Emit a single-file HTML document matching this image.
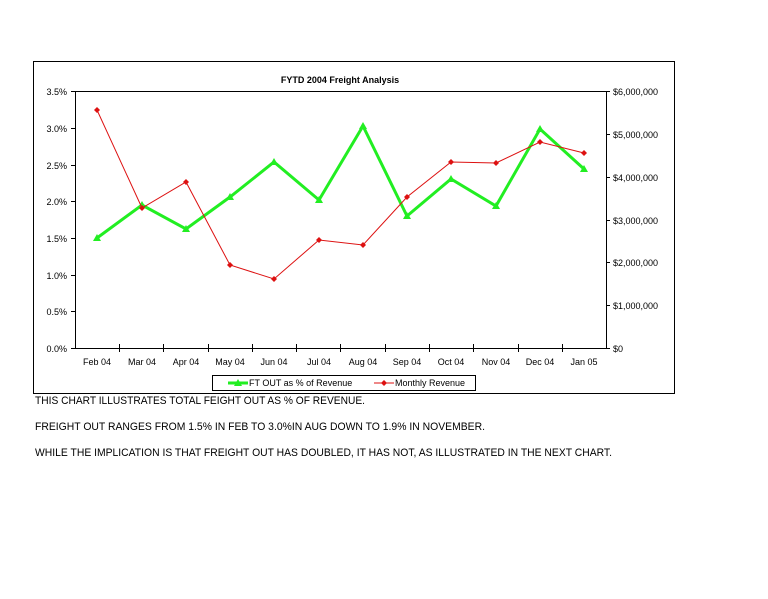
<!DOCTYPE html>
<html><head><style>
body{margin:0;background:#fff;width:768px;height:594px;overflow:hidden;font-family:"Liberation Sans",sans-serif}
</style></head><body>
<svg width="768" height="594" xmlns="http://www.w3.org/2000/svg" font-family="Liberation Sans, sans-serif">
<rect x="33.5" y="61.5" width="641" height="332" fill="#fff" stroke="#000" stroke-width="1"/>
<text x="340" y="83" font-size="9" font-weight="bold" text-anchor="middle">FYTD 2004 Freight Analysis</text>
<g stroke="#000" stroke-width="1" fill="none">
<line x1="75.5" y1="91" x2="75.5" y2="348.5"/>
<line x1="606.5" y1="91" x2="606.5" y2="348.5"/>
<line x1="75" y1="348.5" x2="607" y2="348.5"/>
<line x1="75" y1="91.5" x2="606" y2="91.5"/>
</g>
<g stroke="#000" stroke-width="1">
<line x1="71" y1="91.5" x2="75" y2="91.5"/><line x1="71" y1="128.5" x2="75" y2="128.5"/><line x1="71" y1="165.5" x2="75" y2="165.5"/><line x1="71" y1="201.5" x2="75" y2="201.5"/><line x1="71" y1="238.5" x2="75" y2="238.5"/><line x1="71" y1="275.5" x2="75" y2="275.5"/><line x1="71" y1="311.5" x2="75" y2="311.5"/><line x1="71" y1="348.5" x2="75" y2="348.5"/>
<line x1="606" y1="91.5" x2="610" y2="91.5"/><line x1="606" y1="134.5" x2="610" y2="134.5"/><line x1="606" y1="177.5" x2="610" y2="177.5"/><line x1="606" y1="220.5" x2="610" y2="220.5"/><line x1="606" y1="262.5" x2="610" y2="262.5"/><line x1="606" y1="305.5" x2="610" y2="305.5"/><line x1="606" y1="348.5" x2="610" y2="348.5"/>
<line x1="119.5" y1="344" x2="119.5" y2="352"/><line x1="163.5" y1="344" x2="163.5" y2="352"/><line x1="208.5" y1="344" x2="208.5" y2="352"/><line x1="252.5" y1="344" x2="252.5" y2="352"/><line x1="296.5" y1="344" x2="296.5" y2="352"/><line x1="340.5" y1="344" x2="340.5" y2="352"/><line x1="385.5" y1="344" x2="385.5" y2="352"/><line x1="429.5" y1="344" x2="429.5" y2="352"/><line x1="473.5" y1="344" x2="473.5" y2="352"/><line x1="518.5" y1="344" x2="518.5" y2="352"/><line x1="562.5" y1="344" x2="562.5" y2="352"/>
</g>
<g font-size="9" text-anchor="end">
<text x="67" y="95">3.5%</text><text x="67" y="132">3.0%</text><text x="67" y="169">2.5%</text><text x="67" y="205">2.0%</text><text x="67" y="242">1.5%</text><text x="67" y="279">1.0%</text><text x="67" y="315">0.5%</text><text x="67" y="352">0.0%</text>
</g>
<g font-size="9">
<text x="613" y="95">$6,000,000</text><text x="613" y="138">$5,000,000</text><text x="613" y="181">$4,000,000</text><text x="613" y="224">$3,000,000</text><text x="613" y="266">$2,000,000</text><text x="613" y="309">$1,000,000</text><text x="613" y="352">$0</text>
</g>
<g font-size="9" text-anchor="middle">
<text x="97" y="365">Feb 04</text><text x="142" y="365">Mar 04</text><text x="186" y="365">Apr 04</text><text x="230" y="365">May 04</text><text x="274" y="365">Jun 04</text><text x="319" y="365">Jul 04</text><text x="363" y="365">Aug 04</text><text x="407" y="365">Sep 04</text><text x="451" y="365">Oct 04</text><text x="496" y="365">Nov 04</text><text x="540" y="365">Dec 04</text><text x="584" y="365">Jan 05</text>
</g>
<polyline fill="none" stroke="#22ee22" stroke-width="3" points="97,238 142,205 186,229 230,197 274,162 319,200 363,126 407,216 451,179 496,206 540,129 584,169"/>
<g fill="#22ee22">
<polygon points="97,234 101,241 93,241"/><polygon points="142,201 146,208 138,208"/><polygon points="186,225 190,232 182,232"/><polygon points="230,193 234,200 226,200"/><polygon points="274,158 278,165 270,165"/><polygon points="319,196 323,203 315,203"/><polygon points="363,122 367,129 359,129"/><polygon points="407,212 411,219 403,219"/><polygon points="451,175 455,182 447,182"/><polygon points="496,202 500,209 492,209"/><polygon points="540,125 544,132 536,132"/><polygon points="584,165 588,172 580,172"/>
</g>
<polyline fill="none" stroke="#dd1111" stroke-width="1" points="97,110 142,208 186,182 230,265 274,279 319,240 363,245 407,197 451,162 496,163 540,142 584,153"/>
<g fill="#dd1111">
<polygon points="97,107 100,110 97,113 94,110"/><polygon points="142,205 145,208 142,211 139,208"/><polygon points="186,179 189,182 186,185 183,182"/><polygon points="230,262 233,265 230,268 227,265"/><polygon points="274,276 277,279 274,282 271,279"/><polygon points="319,237 322,240 319,243 316,240"/><polygon points="363,242 366,245 363,248 360,245"/><polygon points="407,194 410,197 407,200 404,197"/><polygon points="451,159 454,162 451,165 448,162"/><polygon points="496,160 499,163 496,166 493,163"/><polygon points="540,139 543,142 540,145 537,142"/><polygon points="584,150 587,153 584,156 581,153"/>
</g>
<rect x="212.5" y="375.5" width="263" height="15" fill="#fff" stroke="#000"/>
<line x1="228" y1="383" x2="248" y2="383" stroke="#22ee22" stroke-width="3"/>
<polygon points="238,379 242,386 234,386" fill="#22ee22"/>
<text x="249" y="386" font-size="9">FT OUT as % of Revenue</text>
<line x1="374" y1="383" x2="394" y2="383" stroke="#dd1111" stroke-width="1"/>
<polygon points="384,380 387,383 384,386 381,383" fill="#dd1111"/>
<text x="395" y="386" font-size="9">Monthly Revenue</text>
<g font-size="11">
<text x="35" y="404" textLength="330" lengthAdjust="spacingAndGlyphs">THIS CHART ILLUSTRATES TOTAL FEIGHT OUT AS % OF REVENUE.</text>
<text x="35" y="430" textLength="450" lengthAdjust="spacingAndGlyphs">FREIGHT OUT RANGES FROM 1.5% IN FEB TO 3.0%IN AUG DOWN TO 1.9% IN NOVEMBER.</text>
<text x="35" y="456" textLength="577" lengthAdjust="spacingAndGlyphs">WHILE THE IMPLICATION IS THAT FREIGHT OUT HAS DOUBLED, IT HAS NOT, AS ILLUSTRATED IN THE NEXT CHART.</text>
</g>
</svg>
</body></html>
